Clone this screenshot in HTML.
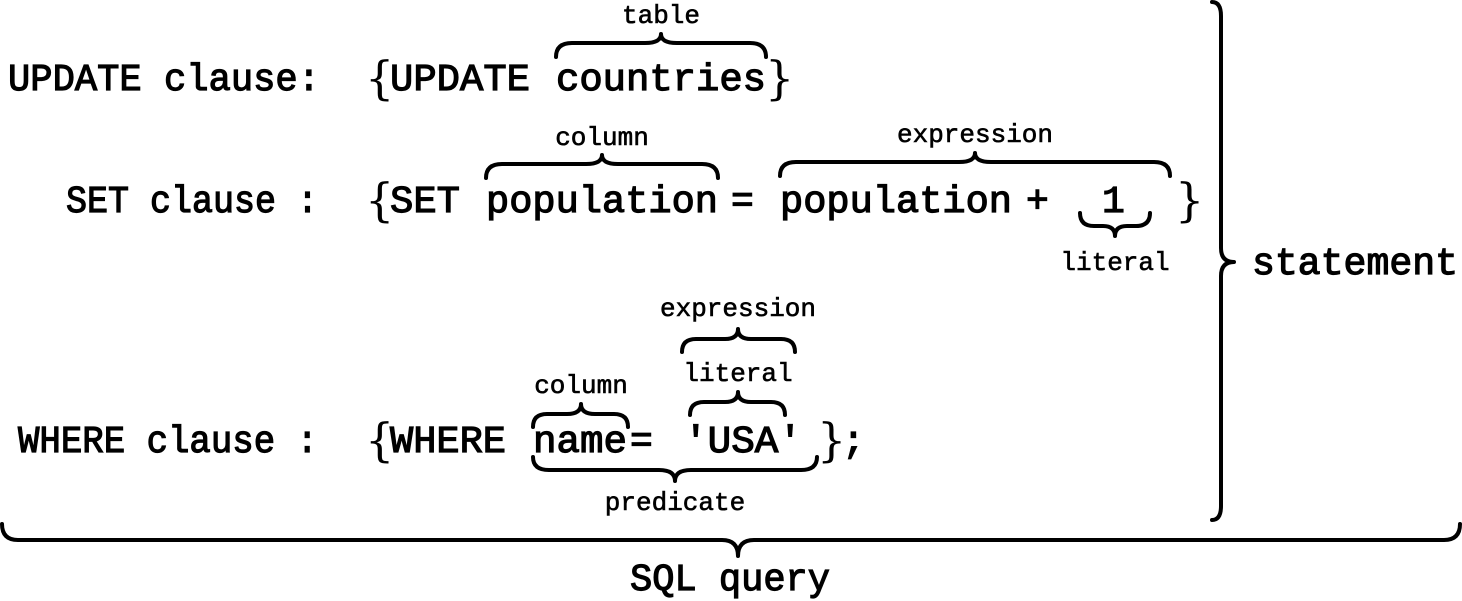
<!DOCTYPE html>
<html><head><meta charset="utf-8"><style>
html,body{margin:0;padding:0;background:#fff;}
svg{display:block}
.t{font-family:"Liberation Mono",monospace;font-size:38px;fill:#000;stroke:#000;stroke-width:1.2}
.s{font-family:"Liberation Mono",monospace;font-size:26px;fill:#000;stroke:#000;stroke-width:0.6}
.b{font-family:"DejaVu Serif","Liberation Serif",serif;font-size:46px;fill:#000}
.br{fill:none;stroke:#000;stroke-width:4;stroke-linecap:round;stroke-linejoin:round}
</style></head><body>
<svg width="1462" height="601" viewBox="0 0 1462 601" xmlns="http://www.w3.org/2000/svg">
<!-- Row 1 -->
<text class="t" x="8" y="90" textLength="312" lengthAdjust="spacingAndGlyphs">UPDATE clause:</text>
<text class="b" x="365" y="94">{</text>
<text class="t" x="390" y="90" textLength="140" lengthAdjust="spacingAndGlyphs">UPDATE</text>
<text class="t" x="556" y="90" textLength="210" lengthAdjust="spacingAndGlyphs">countries</text>
<text class="b" x="765" y="94">}</text>
<path class="br" d="M556,57 Q556,43 572,43 L645,43 Q661,43 661,34 Q661,43 677,43 L750,43 Q766,43 766,57"/>
<text class="s" x="661" y="23" text-anchor="middle">table</text>

<!-- Row 2 -->
<text class="t" x="66" y="212" textLength="252" lengthAdjust="spacingAndGlyphs">SET clause :</text>
<text class="b" x="365" y="216">{</text>
<text class="t" x="390" y="212" textLength="70" lengthAdjust="spacingAndGlyphs">SET</text>
<text class="t" x="486" y="212" textLength="232" lengthAdjust="spacingAndGlyphs">population</text>
<text class="t" x="731" y="212">=</text>
<text class="t" x="780" y="212" textLength="232" lengthAdjust="spacingAndGlyphs">population</text>
<text class="t" x="1026" y="212">+</text>
<text class="t" x="1102" y="212">1</text>
<text class="b" x="1175" y="216">}</text>
<path class="br" d="M486,178 Q486,164 502,164 L586,164 Q602,164 602,155 Q602,164 618,164 L702,164 Q718,164 718,178"/>
<text class="s" x="602" y="145" text-anchor="middle">column</text>
<path class="br" d="M780,176 Q780,162 796,162 L959,162 Q975,162 975,153 Q975,162 991,162 L1154,162 Q1170,162 1170,176"/>
<text class="s" x="975" y="142" text-anchor="middle">expression</text>
<path class="br" d="M1080,213 Q1080,226 1094,226 L1103,226 Q1115,226 1115,236 Q1115,226 1127,226 L1136,226 Q1150,226 1150,213"/>
<text class="s" x="1115" y="270" text-anchor="middle">literal</text>

<!-- Row 3 -->
<text class="t" x="18" y="452" textLength="300" lengthAdjust="spacingAndGlyphs">WHERE clause :</text>
<text class="b" x="365" y="456">{</text>
<text class="t" x="390" y="452" textLength="116" lengthAdjust="spacingAndGlyphs">WHERE</text>
<text class="t" x="533" y="452" textLength="94" lengthAdjust="spacingAndGlyphs">name</text>
<text class="t" x="630" y="452">=</text>
<text class="t" x="684" y="452" textLength="118" lengthAdjust="spacingAndGlyphs">'USA'</text>
<text class="b" x="817" y="456">}</text>
<text class="t" x="842" y="452">;</text>
<path class="br" d="M533,427 Q533,414 547,414 L567,414 Q581,414 581,404 Q581,414 595,414 L614,414 Q628,414 628,427"/>
<text class="s" x="581" y="393" text-anchor="middle">column</text>
<path class="br" d="M690,415 Q690,402 704,402 L725,402 Q738,402 738,392 Q738,402 751,402 L771,402 Q785,402 785,415"/>
<text class="s" x="738" y="381" text-anchor="middle">literal</text>
<path class="br" d="M682,352 Q682,339 696,339 L725,339 Q738,339 738,329 Q738,339 751,339 L781,339 Q795,339 795,352"/>
<text class="s" x="738" y="316" text-anchor="middle">expression</text>
<path class="br" d="M533,457 Q533,470 549,470 L659,470 Q675,470 675,481 Q675,470 691,470 L801,470 Q817,470 817,457"/>
<text class="s" x="675" y="510" text-anchor="middle">predicate</text>

<!-- Right brace -->
<path class="br" d="M1212,2 Q1221,2 1221,16 L1221,248 Q1221,262 1234,262 Q1221,262 1221,276 L1221,506 Q1221,520 1212,520"/>
<text class="t" x="1252" y="274" textLength="206" lengthAdjust="spacingAndGlyphs">statement</text>

<!-- Bottom brace -->
<path class="br" d="M2,524 Q2,540 18,540 L722,540 Q738,540 738,556 Q738,540 754,540 L1444,540 Q1460,540 1460,524"/>
<text class="t" x="630" y="590" textLength="200" lengthAdjust="spacingAndGlyphs">SQL query</text>
</svg>
</body></html>
